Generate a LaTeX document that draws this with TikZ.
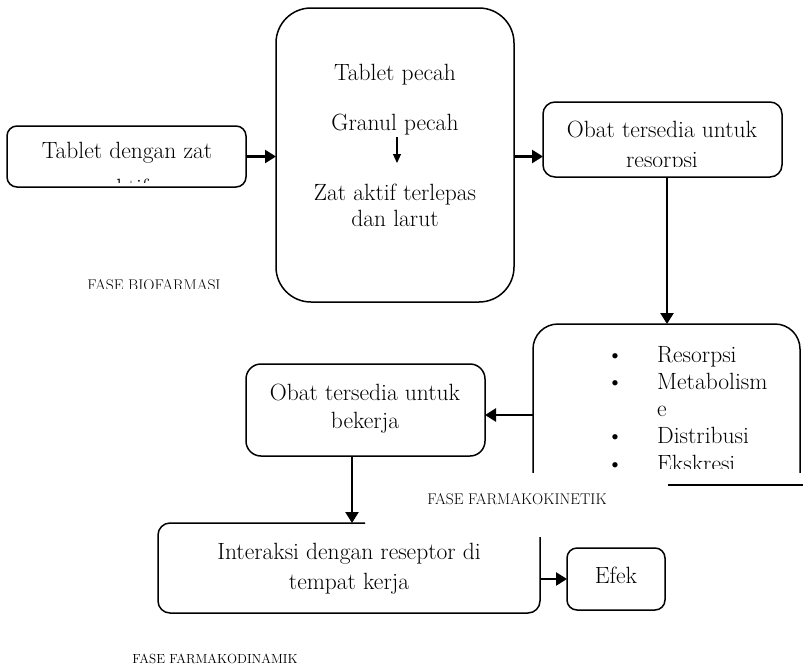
\documentclass[tikz,border=0pt]{standalone}
\usetikzlibrary{arrows.meta}
\begin{document}
\begin{tikzpicture}[x=1pt,y=-1pt,
  box/.style={draw, line width=1.5pt, inner sep=0pt, outer sep=0pt},
  arr/.style={line width=2.4pt, -{Triangle[length=11pt,width=13pt]}},
  smallarr/.style={line width=1.1pt, -{Triangle[length=9pt,width=8pt]}},
  txt/.style={font=\fontsize{23.5}{28}\selectfont, inner sep=0pt, text height=16pt, text depth=5pt},
  lab/.style={font=\fontsize{15.5}{18}\selectfont, inner sep=0pt, text height=11pt, text depth=0pt}]
\useasboundingbox (0,0) rectangle (803,667);

% Box A
\node[box, rounded corners=10pt, minimum width=239pt, minimum height=61pt] (A) at (126.5,156.5) {};
\begin{scope}
  \clip (7,126) rectangle (246,182);
  \node[txt] (A1) at (127,153) {Tablet dengan zat};
  \node[txt] (A2) at (127,190) {aktif};
\end{scope}

% Box B
\node[box, rounded corners=35pt, minimum width=238pt, minimum height=294pt] (B) at (395,155) {};
\node[txt] (B1) at (395,75) {Tablet pecah};
\node[txt] (B2) at (395,125) {Granul pecah};
\node[txt] (B3) at (395,195) {Zat aktif terlepas};
\node[txt] (B4) at (395,221) {dan larut};
\coordinate (Bs) at (397,137);
\coordinate (Be) at (397,163);
\draw[smallarr] (Bs) -- (Be);

% Box C
\node[box, rounded corners=12pt, minimum width=239pt, minimum height=75pt] (C) at (662.5,139.5) {};
\begin{scope}
  \clip (543,102) rectangle (782,166);
  \node[txt] (C1) at (662,132) {Obat tersedia untuk};
  \node[txt] (C2) at (662,162) {resorpsi};
\end{scope}

% Box D (clipped at bottom)
\begin{scope}
  \clip (515,300) rectangle (803,472);
  \node[box, rounded corners=25pt, minimum width=267pt, minimum height=200pt, anchor=north west] (D) at (533,324) {};
\end{scope}
\begin{scope}
  \clip (533,324) rectangle (803,468);
  \foreach \yy/\tt [count=\i] in {357/Resorpsi, 384/Metabolism, 411/e, 438/Distribusi, 466/Ekskresi}{
    \node[txt, anchor=west] (D\i) at (657,\yy) {\tt};
  }
  \foreach \yy [count=\i] in {357, 384, 438, 466}{
    \node[txt] (Db\i) at (615,\yy) {\textbullet};
  }
\end{scope}
\coordinate (Dl1) at (668,485);
\coordinate (Dl2) at (803,485);
\draw[line width=1.5pt] (Dl1) -- (Dl2);

% Box E
\node[box, rounded corners=15pt, minimum width=239pt, minimum height=92pt] (E) at (365.5,410) {};
\node[txt] (E1) at (365,395) {Obat tersedia untuk};
\node[txt] (E2) at (365,423) {bekerja};

% Box F (partial outline)
\node[inner sep=0pt, outer sep=0pt, minimum width=382pt, minimum height=90pt] (F) at (349,568) {};
\coordinate (Fa) at (365,523);
\coordinate (Fb) at (540,537);
\draw[line width=1.5pt, rounded corners=12pt] (Fa) -| (F.south west) -| (Fb);
\node[txt] (F1) at (349,554) {Interaksi dengan reseptor di};
\node[txt] (F2) at (349,584) {tempat kerja};

% Box G
\node[box, rounded corners=10pt, minimum width=98pt, minimum height=62pt] (G) at (616,579) {};
\node[txt] (G1) at (616,578) {Efek};

% Labels
\begin{scope}
  \clip (60,270) rectangle (260,288);
  \node[lab] (L1) at (154,285) {FASE BIOFARMASI};
\end{scope}
\node[lab] (L2) at (517,499) {FASE FARMAKOKINETIK};
\node[font=\fontsize{13.2}{16}\selectfont, inner sep=0pt, text height=9pt, text depth=0pt] (L3) at (215,659) {FASE FARMAKODINAMIK};

% Connectors
\draw[arr] (A.east) -- (A.east -| B.west);
\draw[arr] (B.east |- A.east) -- (C.west |- A.east);
\coordinate (xCD) at (667,0);
\draw[arr] (C.south -| xCD) -- (D.north -| xCD);
\coordinate (yDE) at (0,415);
\draw[arr] (D.west |- yDE) -- (E.east |- yDE);
\coordinate (xEF) at (352,0);
\draw[arr] (E.south -| xEF) -- (F.north -| xEF);
\draw[arr] (F.east |- G.west) -- (G.west);
\end{tikzpicture}
\end{document}
